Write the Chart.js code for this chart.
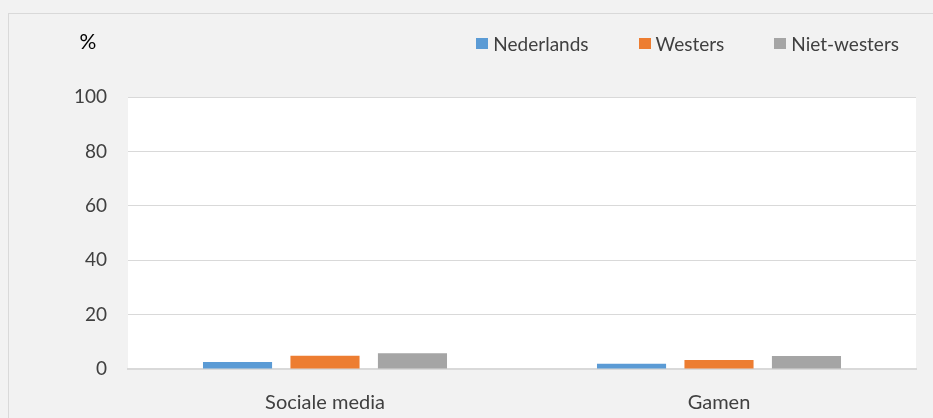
<!DOCTYPE html>
<html>
<head>
<meta charset="utf-8">
<title>Sociale media en gamen</title>
<script src="https://cdn.jsdelivr.net/npm/chart.js@4"></script>
<style>
  html, body { margin: 0; padding: 0; background: #f2f2f2; }
  #wrap { position: relative; width: 933px; height: 418px; background: #f2f2f2; overflow: hidden; }
  #frame { position: absolute; left: 8px; top: 13px; right: -10px; bottom: -10px;
           border-top: 1px solid #d9d9d9; border-left: 1px solid #d9d9d9; }
  #chart { position: absolute; left: 0; top: 0; }
  #legend { position: absolute; right: 34px; top: 31px; height: 25px; display: flex; gap: 50px;
            font: 19px Lato, sans-serif; color: #404040; }
  #legend .item { display: flex; align-items: center; }
  #legend .box { width: 12px; height: 11px; margin-right: 5px; }
</style>
</head>
<body>
<div id="wrap">
  <div id="frame"></div>
  <canvas id="chart" width="933" height="418"></canvas>
  <div id="legend"></div>
</div>
<script>
"use strict";

// values (percent)
const categories = ['Sociale media', 'Gamen'];
const nederlands = [2.6, 1.9];
const westers = [4.9, 3.3];
const nietWesters = [5.8, 4.8];
const yTicks = [0, 20, 40, 60, 80, 100];

const seriesLabels = ['Nederlands', 'Westers', 'Niet-westers'];
const seriesColors = ['#5b9bd5', '#ed7d31', '#a5a5a5'];

const FONT = 'Lato, sans-serif';

// white plot area on the grey chart background
const plotBackground = {
  id: 'plotBackground',
  beforeDraw(chart) {
    const { ctx, chartArea: a } = chart;
    ctx.save();
    ctx.fillStyle = '#ffffff';
    ctx.fillRect(a.left, a.top, a.right - a.left, a.bottom - a.top);
    ctx.restore();
  }
};

// "%" unit label above the value axis
const unitLabel = {
  id: 'unitLabel',
  afterDraw(chart) {
    const ctx = chart.ctx;
    ctx.save();
    ctx.font = '21px ' + FONT;
    ctx.fillStyle = '#000000';
    ctx.textAlign = 'center';
    ctx.textBaseline = 'middle';
    ctx.fillText('%', 88, 42);
    ctx.restore();
  }
};

// legend built from the datasets, laid out in html
const htmlLegend = {
  id: 'htmlLegend',
  afterUpdate(chart) {
    const el = document.getElementById('legend');
    el.innerHTML = '';
    chart.data.datasets.forEach(ds => {
      const item = document.createElement('div');
      item.className = 'item';
      const box = document.createElement('span');
      box.className = 'box';
      box.style.background = ds.backgroundColor;
      const text = document.createElement('span');
      text.textContent = ds.label;
      item.appendChild(box);
      item.appendChild(text);
      el.appendChild(item);
    });
  }
};

const datasets = [nederlands, westers, nietWesters].map((values, i) => ({
  label: seriesLabels[i],
  data: values,
  backgroundColor: seriesColors[i],
  borderWidth: 0,
  categoryPercentage: 0.666,
  barPercentage: 0.79
}));

new Chart(document.getElementById('chart'), {
  type: 'bar',
  data: { labels: categories, datasets },
  options: {
    responsive: false,
    animation: false,
    layout: { padding: { top: 97, right: 17, left: 0, bottom: 0 } },
    plugins: {
      legend: { display: false },
      tooltip: { enabled: false }
    },
    scales: {
      x: {
        grid: { display: false },
        border: { color: '#d9d9d9', width: 2 },
        ticks: { color: '#404040', font: { family: FONT, size: 20 }, padding: 14 },
        afterFit(scale) { scale.height = 49; }
      },
      y: {
        min: yTicks[0],
        max: yTicks[yTicks.length - 1],
        grid: { color: '#d9d9d9', drawTicks: false },
        border: { display: false },
        ticks: {
          stepSize: yTicks[1] - yTicks[0],
          color: '#404040',
          font: { family: FONT, size: 19 },
          padding: 21
        },
        afterFit(scale) { scale.width = 128; }
      }
    }
  },
  plugins: [plotBackground, unitLabel, htmlLegend]
});
</script>
</body>
</html>
